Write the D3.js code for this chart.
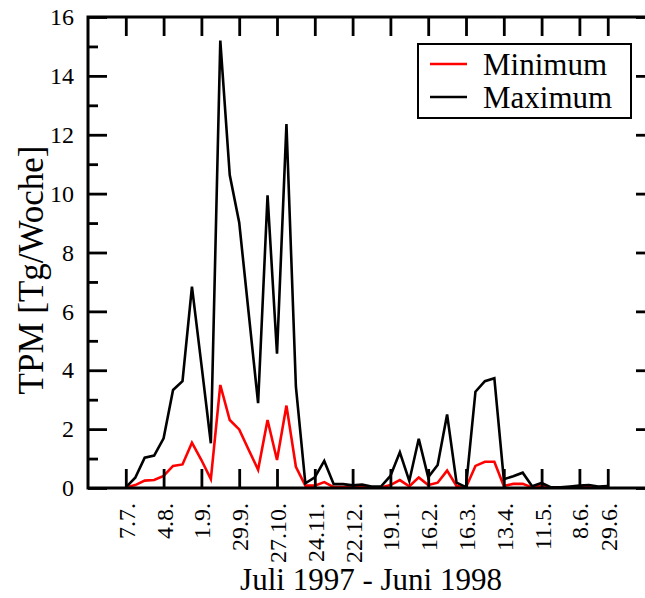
<!DOCTYPE html>
<html>
<head>
<meta charset="utf-8">
<script src="https://cdn.jsdelivr.net/npm/d3@7"></script>
<style>
  body { margin: 0; background: #fff; }
  svg { display: block; }
  text { font-family: "Liberation Serif", "Times New Roman", serif; fill: #000; }
</style>
</head>
<body>
<script>
// Layout
const width = 645;
const height = 598;
const margin = { top: 17, right: -10, bottom: 110, left: 88 };

// Weekly values, first week starts 7.7.1997
const startDate = "1997-07-07";
const minValues = [
  0.02, 0.10, 0.25, 0.27, 0.41, 0.75, 0.80, 1.54, 0.95, 0.30,
  3.50, 2.31, 1.99, 1.30, 0.62, 2.31, 0.95, 2.80, 0.72, 0.08,
  0.08, 0.20, 0.03, 0.03, 0.02, 0.03, 0.02, 0.02, 0.10, 0.27,
  0.06, 0.36, 0.10, 0.18, 0.59, 0.07, 0.02, 0.75, 0.89, 0.89,
  0.07, 0.14, 0.14, 0.02, 0.07, 0.01, 0.01, 0.01, 0.02, 0.02,
  0.01, 0.01
];
const maxValues = [
  0.02, 0.35, 1.03, 1.10, 1.69, 3.33, 3.63, 6.84, 4.20, 1.52,
  15.20, 10.63, 9.02, 5.95, 2.88, 9.94, 4.56, 12.36, 3.44, 0.16,
  0.36, 0.92, 0.13, 0.13, 0.09, 0.12, 0.05, 0.05, 0.41, 1.21,
  0.24, 1.67, 0.36, 0.78, 2.50, 0.18, 0.03, 3.27, 3.63, 3.73,
  0.30, 0.40, 0.52, 0.06, 0.17, 0.02, 0.02, 0.05, 0.08, 0.10,
  0.05, 0.07
];

// X tick dates and their labels
const tickDates = [
  "1997-07-07", "1997-08-04", "1997-09-01", "1997-09-29", "1997-10-27",
  "1997-11-24", "1997-12-22", "1998-01-19", "1998-02-16", "1998-03-16",
  "1998-04-13", "1998-05-11", "1998-06-08", "1998-06-29"
];
const tickLabels = [
  "7.7.", "4.8.", "1.9.", "29.9.", "27.10.", "24.11.", "22.12.",
  "19.1.", "16.2.", "16.3.", "13.4.", "11.5.", "8.6.", "29.6."
];
const yMajor = [0, 2, 4, 6, 8, 10, 12, 14, 16];
const yMinor = [1, 3, 5, 7, 9, 11, 13, 15];

const series = [
  { name: "Minimum", values: minValues, color: "#ff0000" },
  { name: "Maximum", values: maxValues, color: "#000000" }
];

const parse = d3.utcParse("%Y-%m-%d");
const t0 = parse(startDate);
const weekDates = minValues.map((d, i) => d3.utcWeek.offset(t0, i));

const svg = d3.select("body")
  .append("svg")
  .attr("width", width)
  .attr("height", height);

const x = d3.scaleUtc()
  .domain([d3.utcWeek.offset(t0, -4), d3.utcWeek.offset(t0, 56)])
  .range([margin.left, width - margin.right]);

const y = d3.scaleLinear()
  .domain([0, 16])
  .range([height - margin.bottom, margin.top]);

const x0 = margin.left, x1 = width - margin.right;
const y0 = height - margin.bottom, y1 = margin.top;

// Lines
const line = d3.line()
  .x((d, i) => x(weekDates[i]))
  .y(d => y(d));

svg.append("g")
  .selectAll("path")
  .data(series)
  .enter()
  .append("path")
  .attr("d", d => line(d.values))
  .attr("fill", "none")
  .attr("stroke", d => d.color)
  .attr("stroke-width", 2.6)
  .attr("stroke-linejoin", "miter");

// Axes (inward ticks on all four sides)
const tickStyle = g => {
  g.attr("font-family", null).attr("font-size", null);
  g.select(".domain").remove();
  g.selectAll(".tick line").attr("stroke", "#000").attr("stroke-width", 2.8);
};

svg.append("g")
  .attr("transform", `translate(0,${y0})`)
  .call(d3.axisBottom(x)
    .tickValues(tickDates.map(parse))
    .tickSize(-19)
    .tickFormat((d, i) => tickLabels[i]))
  .call(tickStyle)
  .call(g => g.selectAll("text")
    .style("font-size", "24px")
    .attr("transform", "rotate(-90)")
    .attr("x", -15)
    .attr("y", 0)
    .attr("dy", "0.35em")
    .attr("text-anchor", "end"));

svg.append("g")
  .attr("transform", `translate(0,${y1})`)
  .call(d3.axisTop(x)
    .tickValues(tickDates.map(parse))
    .tickSize(-19)
    .tickFormat(""))
  .call(tickStyle);

svg.append("g")
  .attr("transform", `translate(${x0},0)`)
  .call(d3.axisLeft(y)
    .tickValues(yMajor)
    .tickSize(-19)
    .tickPadding(14)
    .tickFormat(d3.format("d")))
  .call(tickStyle)
  .call(g => g.selectAll("text").style("font-size", "24px"));

svg.append("g")
  .attr("transform", `translate(${x0},0)`)
  .call(d3.axisLeft(y).tickValues(yMinor).tickSize(-10).tickFormat(""))
  .call(tickStyle);

svg.append("g")
  .attr("transform", `translate(${x1},0)`)
  .call(d3.axisRight(y).tickValues(yMajor).tickSize(-19).tickFormat(""))
  .call(tickStyle);

svg.append("g")
  .attr("transform", `translate(${x1},0)`)
  .call(d3.axisRight(y).tickValues(yMinor).tickSize(-10).tickFormat(""))
  .call(tickStyle);

// Frame
svg.append("rect")
  .attr("x", x0)
  .attr("y", y1)
  .attr("width", x1 - x0)
  .attr("height", y0 - y1)
  .attr("fill", "none")
  .attr("stroke", "#000")
  .attr("stroke-width", 3);

// Axis titles
svg.append("text")
  .attr("x", 371)
  .attr("y", 590)
  .attr("text-anchor", "middle")
  .style("font-size", "31px")
  .text("Juli 1997 - Juni 1998");

svg.append("text")
  .attr("transform", "translate(43,270) rotate(-90)")
  .attr("text-anchor", "middle")
  .style("font-size", "35px")
  .text("TPM [Tg/Woche]");

// Legend
const legend = svg.append("g");
legend.append("rect")
  .attr("x", 418)
  .attr("y", 44)
  .attr("width", 213)
  .attr("height", 74)
  .attr("fill", "#fff")
  .attr("stroke", "#000")
  .attr("stroke-width", 2);

legend.selectAll("line")
  .data(series)
  .enter()
  .append("line")
  .attr("x1", 430)
  .attr("x2", 467)
  .attr("y1", (d, i) => 64 + i * 33)
  .attr("y2", (d, i) => 64 + i * 33)
  .attr("stroke", d => d.color)
  .attr("stroke-width", 2.6);

legend.selectAll("text")
  .data(series)
  .enter()
  .append("text")
  .attr("x", 483)
  .attr("y", (d, i) => 75 + i * 33)
  .style("font-size", "31px")
  .text(d => d.name);
</script>
</body>
</html>
